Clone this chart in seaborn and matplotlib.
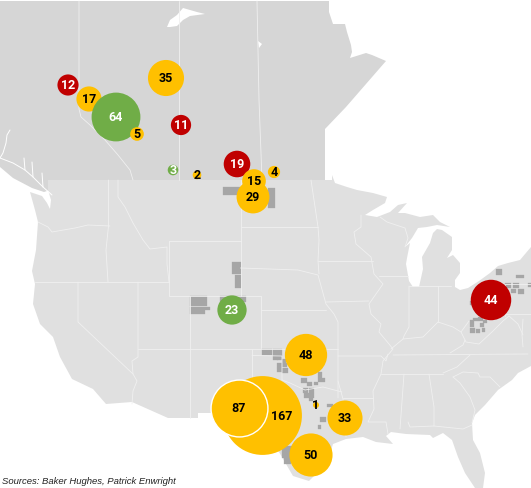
import matplotlib
matplotlib.use("Agg")
import matplotlib.pyplot as plt
import pandas as pd
import seaborn as sns

# bubble data (pixel space of the map)
basin_values = [167, 50, 48, 33, 1, 44, 23, 35, 12, 17, 64, 5, 11, 19, 3, 2, 15, 29, 4]
basin_x = [262.5, 311, 306, 345, 316, 491, 232, 166, 68, 89, 116, 137, 181, 237, 173, 197, 254, 253, 274]
basin_y = [415.5, 455, 355, 418, 405, 300, 310, 78, 85, 99, 117, 134, 125, 164, 170, 175, 181, 197, 172]
basin_status = ["amber", "amber", "amber", "amber", "amber", "red", "green", "amber", "red", "amber",
                "green", "amber", "red", "red", "green", "amber", "amber", "amber", "amber"]
top_value = [87]
top_x = [239]
top_y = [408]
top_status = ["amber"]
status_colors = {"amber": "#FFC000", "red": "#C00000", "green": "#70AD47"}

# basemap outlines
canada = [(0, 1), (329, 1), (329, 12), (333, 24), (345, 24), (347, 32), (351, 45), (352, 52), (350, 58),
          (366, 53), (372, 55), (386, 61), (366, 84), (346, 107), (325, 129), (325, 180), (48, 180),
          (50, 190), (44, 192), (32, 188), (13, 178), (0, 167)]
usa = [(48, 180), (332, 180), (332, 175), (335, 183), (347, 187), (357, 190), (373, 193), (387, 197),
       (385, 203), (373, 210), (365, 215), (377, 217), (390, 212), (398, 205), (407, 203), (398, 213),
       (405, 213), (420, 217), (433, 215), (440, 222), (450, 227), (437, 225), (427, 227), (418, 228),
       (412, 238), (405, 247), (410, 243), (407, 258), (406, 264), (409, 281), (413, 287), (419, 287),
       (423, 269), (422, 257), (430, 243), (433, 233), (437, 229), (442, 230), (452, 237), (452, 250),
       (447, 258), (453, 255), (460, 263), (460, 273), (455, 280), (455, 287), (460, 290), (468, 288),
       (479, 281), (490, 273), (498, 266), (508, 263), (520, 260), (531, 247), (531, 366), (518, 373),
       (512, 380), (498, 390), (485, 405), (475, 415), (472, 423), (473, 440), (480, 453), (485, 473),
       (483, 488), (475, 488), (465, 473), (458, 457), (452, 440), (443, 433), (433, 438), (430, 435),
       (406, 434), (391, 432), (386, 436), (393, 444), (376, 442), (363, 437), (346, 439), (333, 444),
       (329, 457), (313, 477), (309, 481), (293, 476), (286, 464), (279, 452), (245, 430), (225, 410),
       (213, 413), (198, 413), (198, 418), (168, 418), (132, 402), (106, 404), (93, 389), (72, 379),
       (60, 357), (53, 337), (40, 324), (33, 304), (35, 284), (32, 271), (36, 250), (38, 222),
       (35, 210), (30, 192), (42, 196), (47, 203), (50, 209), (51, 200), (48, 190)]
lakes = [[(167, 27), (170, 20), (177, 15), (183, 8), (197, 12), (205, 14), (190, 16), (183, 20), (177, 26), (170, 27)],
         [(258, 41), (262, 44), (259, 48)]]
borders = [
    [(79, 1), (79, 109), (81, 117), (90, 125), (105, 140), (118, 155), (130, 170), (133, 180)],
    [(178.5, 1), (178.5, 180)], [(257, 1), (259, 100), (262, 180)],
    [(38, 222), (48, 227), (52, 232), (75, 228), (88, 225), (110, 226)],
    [(108.5, 180), (108.5, 226), (106, 250), (108, 282)],
    [(35, 282), (169, 282)], [(78, 282), (78, 322), (133, 374), (137, 381), (133, 391), (132, 404)],
    [(138, 282), (138, 357), (132, 361), (133, 374)],
    [(138, 348.5), (266, 348.5), (338, 348.5)], [(189.5, 296), (189.5, 418)],
    [(169, 241), (169, 296), (261, 296), (261, 348)], [(169, 241), (240.5, 241)],
    [(240.5, 180), (240.5, 296)], [(240.5, 227), (318, 227)], [(240.5, 268), (298, 270), (318, 275), (326, 304),
                                                               (334, 314), (338, 322), (338, 398)],
    [(261, 309.5), (326, 309.5)],
    [(118, 180), (118, 197), (125, 207), (133, 223), (143, 240), (150, 249), (167, 247), (167, 264), (169, 282)],
    [(311, 180), (314, 200), (318, 227), (319, 240), (318, 261), (319, 274)],
    [(318, 261), (373, 261)],
    [(361, 215), (361, 227), (354, 232), (356, 244), (371, 257), (374, 274), (383, 284), (376, 294), (369, 304),
     (371, 314), (381, 324), (379, 332), (389, 344), (393, 349), (383, 361), (381, 374), (373, 391), (374, 409),
     (368, 422), (386, 422), (388, 434)],
    [(326, 302), (369, 301)], [(338, 356), (381, 356), (386, 361), (388, 354)],
    [(338, 381), (343, 399), (345, 417), (346, 437)], [(343, 398), (373, 398)],
    [(282, 380), (290, 383), (305, 390), (323, 387), (342, 392)],
    [(252, 349), (252, 380)], [(252, 355.5), (282, 356), (282, 380)],
    [(379, 276), (408, 276)], [(409, 286), (409, 327), (404, 336), (403, 339)], [(438, 286), (438, 322)],
    [(409, 286), (451, 286)],
    [(391, 349), (403, 339), (423, 337), (438, 322), (453, 327), (461, 332), (469, 321)],
    [(461, 332), (466, 342), (479, 344), (493, 331), (503, 321), (509, 316)],
    [(393, 355), (528, 354)], [(450, 353), (463, 345), (465, 340)],
    [(470, 355), (457, 367), (443, 373)], [(381, 374), (443, 374)],
    [(453, 377), (463, 372), (478, 373), (480, 377), (490, 377), (500, 387)],
    [(453, 377), (460, 383), (470, 397), (475, 410), (472, 423)],
    [(429, 374), (434, 407), (434, 426), (463, 429), (472, 425)], [(404, 374), (400, 429)], [(408, 422), (410, 427), (434, 426)],
    [(380, 217), (387, 222), (405, 228), (408, 238), (405, 247)],
    [(505, 284), (531, 284)], [(505, 284), (505, 316)], [(505, 314), (531, 314)], [(509, 316), (518, 324), (523, 335)],
    [(523, 319), (522, 335), (523, 347)],
]
# BC inlets cut white through the dark Canada fill
inlets = [
    [(0, 158), (13, 163), (25, 170), (33, 177), (43, 187), (52, 195)],
    [(10, 130), (7, 135), (6, 143), (3, 153), (0, 158)],
    [(24, 158), (25, 170)], [(32, 162), (33, 177)], [(42, 173), (43, 187)],
]
# oil and gas plays as little blocks: x, y, w, h
plays = [(223, 187, 17, 8), (268, 188, 7, 20), (232, 262, 9, 12), (235, 275, 6, 13), (190, 296, 17, 10),
         (190, 307, 20, 3), (190, 310, 15, 4), (220, 296, 26, 6), (262, 349, 10, 5.5), (273, 349, 8.5, 5.5),
         (273, 355, 5, 5), (277, 355, 5, 5), (282, 358.5, 4, 4), (277, 363, 5, 5), (282, 363, 5, 4),
         (277, 368, 5, 4), (282, 368, 6, 5), (301, 378, 6, 5), (307, 382, 5, 4), (314, 382, 4, 3),
         (318, 378, 7, 4), (318, 372, 4, 6), (303, 388, 5, 5), (309, 388, 5, 5), (304, 393, 5, 5),
         (309, 393, 5, 5), (309, 398, 4, 3), (327, 404, 6, 3), (320, 417, 6, 5), (318, 425, 3, 4),
         (282, 446, 6, 6), (288, 446, 6, 6), (282, 452, 6, 6), (287, 452, 6, 6), (284, 458, 7, 6),
         (470, 320, 4, 7), (473, 318, 5, 3), (478, 317, 5, 4), (483, 320, 4, 3), (480, 323, 4, 4),
         (470, 328, 5, 5), (476, 329, 4, 4), (482, 328, 3, 4), (513, 283, 6, 5), (505, 283, 6, 5),
         (511, 289, 5, 4), (518, 289, 6, 5), (528, 283, 4, 4), (516, 275, 8, 3), (496, 269, 6, 6), (470, 301, 3, 4)]

source_text = "Sources: Baker Hughes, Patrick Enwright"
label_shift = {167: 19.5}

sns.set_theme(style="white")
plt.rcParams["font.family"] = ["Roboto", "DejaVu Sans"]

fig, ax = plt.subplots(figsize=(5.31, 4.88), dpi=100)
fig.subplots_adjust(0, 0, 1, 1)

ax.fill(*zip(*canada), color="#d6d6d6", lw=0)
ax.fill(*zip(*usa), color="#e0e0e0", lw=0)
for lake in lakes:
    ax.fill(*zip(*lake), color="white", lw=0)
for line in borders:
    ax.plot(*zip(*line), color="#f0f0f0", lw=0.6, solid_joinstyle="round")
for line in inlets:
    ax.plot(*zip(*line), color="white", lw=0.7, solid_joinstyle="round")
for x, y, w, h in plays:
    ax.fill([x, x + w, x + w, x], [y, y, y + h, y + h], color="#a6a6a6", lw=0.2)

df = pd.DataFrame({"x": basin_x, "y": basin_y, "rigs": basin_values, "status": basin_status})
top = pd.DataFrame({"x": top_x, "y": top_y, "rigs": top_value, "status": top_status})

# area goes with the rig count
unit = 19.29
sizes = (unit, unit * 167)
sns.scatterplot(data=df, x="x", y="y", size="rigs", hue="status", palette=status_colors, sizes=sizes,
                size_norm=(1, 167), linewidth=0, alpha=1, legend=False, ax=ax, zorder=3)
sns.scatterplot(data=top, x="x", y="y", size="rigs", hue="status", palette=status_colors, sizes=sizes,
                size_norm=(1, 167), edgecolor="white", linewidth=1, alpha=1, legend=False, ax=ax, zorder=4)

for row in pd.concat([df, top]).itertuples():
    ax.text(row.x + label_shift.get(row.rigs, 0), row.y + 0.5, str(row.rigs), ha="center", va="center",
            fontsize=9, fontweight="bold", color="black" if row.status == "amber" else "white", zorder=5)

ax.text(2, 481, source_text, fontsize=6.8, style="italic", family="Liberation Sans", color="#222222", va="center")

ax.set_xlim(0, 531)
ax.set_ylim(488, 0)
ax.axis("off")
fig.savefig("out.png", dpi=100)
